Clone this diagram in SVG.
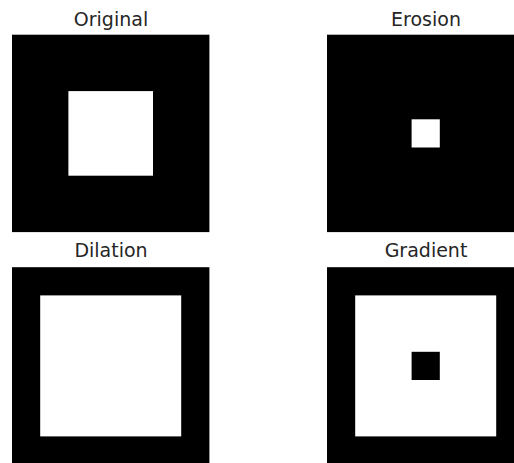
<svg xmlns="http://www.w3.org/2000/svg" width="514" height="463" viewBox="0 0 514 463">
<style>
.bg{fill:#000000}
.fg{fill:#ffffff}
.t{font-family:"DejaVu Sans",sans-serif;font-size:19px;fill:#262626;text-anchor:middle}
</style>
<rect width="514" height="463" fill="#ffffff"/>
<g id="original">
<text class="t" x="111" y="26">Original</text>
<rect class="bg" x="12" y="34.7" width="197.4" height="197.4"/>
<rect class="fg" x="68.4" y="91.1" width="84.6" height="84.6"/>
</g>
<g id="erosion">
<text class="t" x="426" y="26">Erosion</text>
<rect class="bg" x="327" y="34.7" width="197.4" height="197.4"/>
<rect class="fg" x="411.6" y="119.3" width="28.2" height="28.2"/>
</g>
<g id="dilation">
<text class="t" x="111" y="257">Dilation</text>
<rect class="bg" x="12" y="267.2" width="197.4" height="197.4"/>
<rect class="fg" x="40.2" y="295.4" width="141" height="141"/>
</g>
<g id="gradient">
<text class="t" x="426" y="257">Gradient</text>
<rect class="bg" x="327" y="267.2" width="197.4" height="197.4"/>
<rect class="fg" x="355.2" y="295.4" width="141" height="141"/>
<rect class="bg" x="411.6" y="351.8" width="28.2" height="28.2"/>
</g>
</svg>
